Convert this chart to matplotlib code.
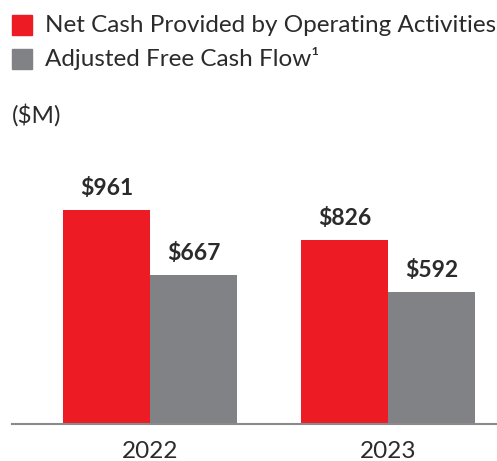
import numpy as np
import matplotlib
matplotlib.use("Agg")
import matplotlib.pyplot as plt
from matplotlib.patches import Rectangle

years = ["2022", "2023"]
operating_cash = [961, 826]
free_cash_flow = [667, 592]
series_names = ["Net Cash Provided by Operating Activities", "Adjusted Free Cash Flow\u00b9"]

red = "#ED1C24"
grey = "#808285"
text_col = "#2b2b2b"

plt.rcParams['font.family'] = ['Lato', 'DejaVu Sans']

W, H = 497, 461
fig = plt.figure(figsize=(W / 100, H / 100), dpi=100)

# axes placed in pixel coordinates
left, right, bottom, top = 12, 497, 424, 201
ax = fig.add_axes([left / W, 1 - bottom / H, (right - left) / W, (bottom - top) / H])

x = np.arange(len(years))
w = 0.366
b1 = ax.bar(x - w / 2, operating_cash, w, color=red)
b2 = ax.bar(x + w / 2, free_cash_flow, w, color=grey)

for bars, vals in [(b1, operating_cash), (b2, free_cash_flow)]:
    for bar, v in zip(bars, vals):
        ax.annotate(f"${v}", (bar.get_x() + bar.get_width() / 2, v),
                    xytext=(0, 8), textcoords="offset points",
                    ha="center", va="bottom", fontsize=16.5, fontweight="bold",
                    color=text_col, annotation_clip=False)

ax.set_xlim(-0.58, 1.458)
ax.set_ylim(0, 1000)
ax.set_xticks(x)
ax.set_xticklabels(years, fontsize=17.5, color=text_col)
ax.tick_params(axis="x", length=0, pad=12)
ax.set_yticks([])
for s in ["top", "right", "left"]:
    ax.spines[s].set_visible(False)
ax.spines["bottom"].set_color("#8a8a8a")
ax.spines["bottom"].set_linewidth(1.5)

# legend drawn by hand
for i, (name, col) in enumerate(zip(series_names, [red, grey])):
    y0 = 15 + i * 34
    fig.patches.append(Rectangle((12 / W, 1 - (y0 + 20) / H), 20 / W, 20 / H,
                                 transform=fig.transFigure, color=col))
    fig.text(45 / W, 1 - (y0 + 10) / H, name, fontsize=17.5, color=text_col,
             va="center", ha="left")

fig.text(12 / W, 1 - 115 / H, "($M)", fontsize=17.5, color=text_col, va="center", ha="left")

fig.savefig("out.png", dpi=100)
